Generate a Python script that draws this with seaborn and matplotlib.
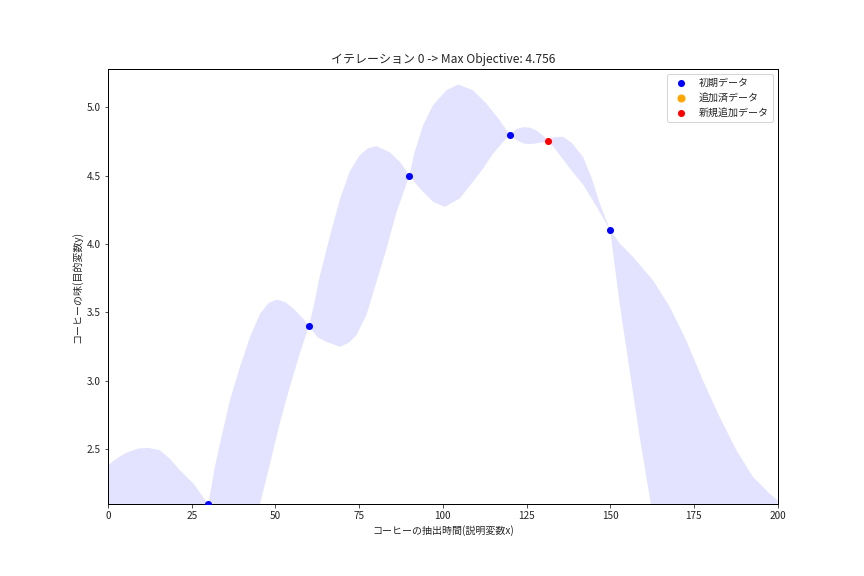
import matplotlib
matplotlib.use("Agg")
import matplotlib.pyplot as plt
import seaborn as sns

# observed data
init_x = [30, 60, 90, 120, 150]
init_y = [2.1, 3.4, 4.5, 4.8, 4.1]
added_x = []
added_y = []
new_x = [131.5]
new_y = [4.756]

# upper / lower edge of the surrogate model's confidence band
upper_x = [0, 3, 6, 9, 12, 15.5, 18.5, 21.5, 25.5, 28.4, 30, 31.9, 33.9, 36.4, 39.4, 42.4,
           45.4, 48, 50.4, 53, 55.3, 58.3, 60, 61.3, 63.3, 66.3, 69.3, 72.2, 75.2, 77.7,
           80.2, 84.2, 87.2, 90, 91.6, 94.1, 97.1, 101.1, 104.6, 109, 113, 116.5, 120,
           122, 124, 126, 128, 130, 131.5, 133, 135.9, 138.5, 141.9, 144.5, 146.9, 150,
           153, 156.8, 162.8, 167.8, 172.7, 177.7, 182.7, 187.7, 192.6, 197.6, 200]
upper_y = [2.383, 2.44, 2.48, 2.505, 2.51, 2.493, 2.43, 2.347, 2.25, 2.15, 2.10, 2.37, 2.59,
           2.858, 3.10, 3.32, 3.49, 3.57, 3.594, 3.575, 3.53, 3.455, 3.40, 3.53, 3.77, 4.06,
           4.33, 4.53, 4.65, 4.70, 4.715, 4.67, 4.60, 4.50, 4.673, 4.868, 5.015, 5.124,
           5.166, 5.124, 5.027, 4.92, 4.80, 4.84, 4.855, 4.85, 4.83, 4.79, 4.756, 4.78,
           4.784, 4.74, 4.637, 4.48, 4.296, 4.10, 4.00, 3.906, 3.735, 3.54, 3.297, 3.004,
           2.736, 2.493, 2.30, 2.176, 2.127]
lower_x = [0, 6, 12, 18, 24, 30, 34, 38, 42, 45.4, 48.4, 51.3, 54.3, 57.3, 60, 62.5, 65.3,
           69.3, 72, 74.2, 77.2, 80.2, 83.2, 86.2, 88.7, 90, 93.1, 97.1, 100.6, 105.1, 109,
           112, 115, 117.5, 120, 122, 124, 126, 128, 130, 131.5, 134, 138, 142, 146, 150,
           152.8, 155.8, 158.8, 161.8, 165, 170, 180, 190, 200]
lower_y = [1.45, 1.25, 1.20, 1.35, 1.65, 2.10, 1.85, 1.75, 1.85, 2.10, 2.395, 2.688, 2.955,
           3.20, 3.40, 3.32, 3.284, 3.248, 3.28, 3.333, 3.48, 3.723, 3.967, 4.235, 4.406,
           4.50, 4.406, 4.308, 4.271, 4.333, 4.454, 4.55, 4.66, 4.73, 4.80, 4.76, 4.735,
           4.73, 4.735, 4.745, 4.756, 4.68, 4.55, 4.43, 4.27, 4.10, 3.565, 3.077, 2.59,
           2.15, 1.60, 1.10, 0.80, 1.00, 1.40]

iteration = 0
max_obj = new_y[-1]

sns.set_style("ticks")
plt.rcParams['font.family'] = ['Noto Sans CJK JP', 'DejaVu Sans']
plt.rcParams['font.size'] = 10

fig, ax = plt.subplots(figsize=(12, 8), dpi=72)
fig.subplots_adjust(left=0.125, right=0.9, bottom=0.125, top=0.88)

# band polygon: upper edge left to right, lower edge back
ax.fill(upper_x + lower_x[::-1], upper_y + lower_y[::-1],
        color='blue', alpha=0.11, linewidth=0)

sns.scatterplot(x=init_x, y=init_y, color='blue', s=50, linewidth=0, label='初期データ', ax=ax, zorder=3)
ax.scatter(added_x, added_y, color='orange', s=50, label='追加済データ', zorder=3)
sns.scatterplot(x=new_x, y=new_y, color='red', s=50, linewidth=0, label='新規追加データ', ax=ax, zorder=3)

ax.set_xlim(0, 200)
ax.set_ylim(2.1, 5.278)
ax.set_xticks([0, 25, 50, 75, 100, 125, 150, 175, 200])
ax.set_yticks([2.5, 3.0, 3.5, 4.0, 4.5, 5.0])
ax.set_title(f'イテレーション {iteration} -> Max Objective: {max_obj:.3f}', fontsize=12)
ax.set_xlabel('コーヒーの抽出時間(説明変数x)')
ax.set_ylabel('コーヒーの味(目的変数y)')
for s in ax.spines.values():
    s.set_color('black')
    s.set_linewidth(1)
ax.legend(loc='upper right')

fig.savefig('out.png', dpi=72)
